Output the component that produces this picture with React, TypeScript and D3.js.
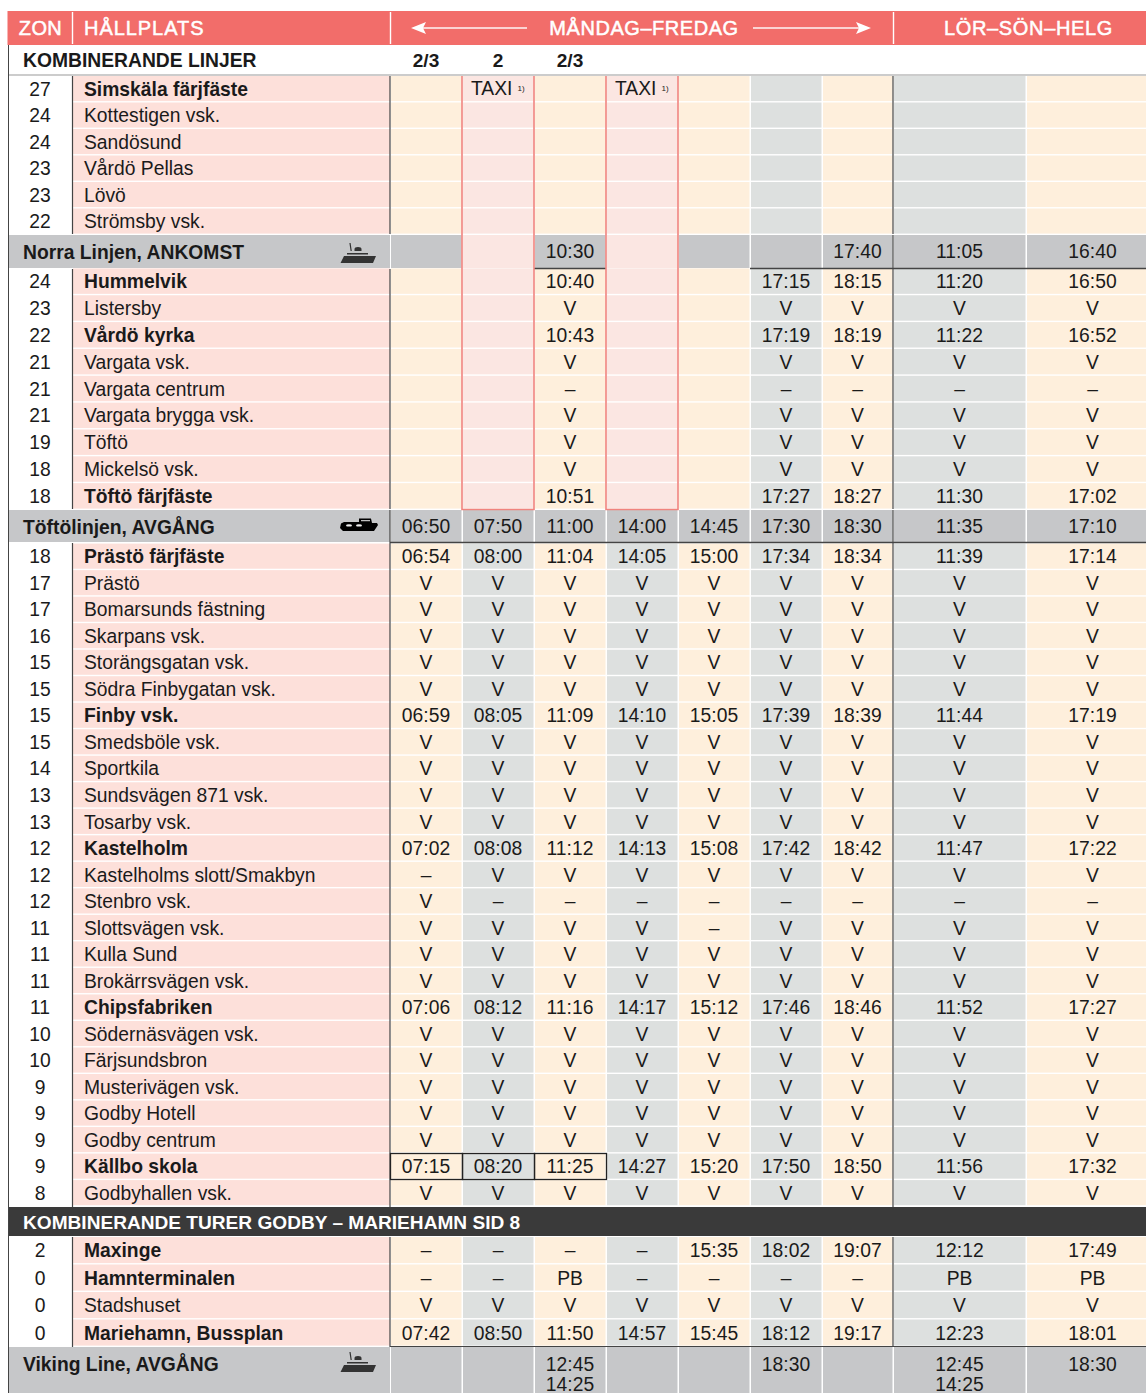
import React from 'react';
import * as d3 from 'd3';

const V = 'V';
const D = '–';
const E = '';

const lineNumbers = ['2/3', '2', '2/3'];

const zonesTop = ['27', '24', '24', '23', '23', '22'];
const stopsTop = ['Simskäla färjfäste', 'Kottestigen vsk.', 'Sandösund', 'Vårdö Pellas', 'Lövö', 'Strömsby vsk.'];

const zonesNorra = ['24', '23', '22', '21', '21', '21', '19', '18', '18'];
const stopsNorra = ['Hummelvik', 'Listersby', 'Vårdö kyrka', 'Vargata vsk.', 'Vargata centrum', 'Vargata brygga vsk.', 'Töftö', 'Mickelsö vsk.', 'Töftö färjfäste'];
const timesNorra = [
  [E, E, '10:40', E, E, '17:15', '18:15', '11:20', '16:50'],
  [E, E, V, E, E, V, V, V, V],
  [E, E, '10:43', E, E, '17:19', '18:19', '11:22', '16:52'],
  [E, E, V, E, E, V, V, V, V],
  [E, E, D, E, E, D, D, D, D],
  [E, E, V, E, E, V, V, V, V],
  [E, E, V, E, E, V, V, V, V],
  [E, E, V, E, E, V, V, V, V],
  [E, E, '10:51', E, E, '17:27', '18:27', '11:30', '17:02'],
];

const zonesMain = ['18', '17', '17', '16', '15', '15', '15', '15', '14', '13', '13', '12', '12', '12', '11', '11', '11', '11', '10', '10', '9', '9', '9', '9', '8'];
const stopsMain = ['Prästö färjfäste', 'Prästö', 'Bomarsunds fästning', 'Skarpans vsk.', 'Storängsgatan vsk.', 'Södra Finbygatan vsk.', 'Finby vsk.', 'Smedsböle vsk.', 'Sportkila', 'Sundsvägen 871 vsk.', 'Tosarby vsk.', 'Kastelholm', 'Kastelholms slott/Smakbyn', 'Stenbro vsk.', 'Slottsvägen vsk.', 'Kulla Sund', 'Brokärrsvägen vsk.', 'Chipsfabriken', 'Södernäsvägen vsk.', 'Färjsundsbron', 'Musterivägen vsk.', 'Godby Hotell', 'Godby centrum', 'Källbo skola', 'Godbyhallen vsk.'];
const allVia = [V, V, V, V, V, V, V, V, V];
const timesMain = [
  ['06:54', '08:00', '11:04', '14:05', '15:00', '17:34', '18:34', '11:39', '17:14'],
  allVia, allVia, allVia, allVia, allVia,
  ['06:59', '08:05', '11:09', '14:10', '15:05', '17:39', '18:39', '11:44', '17:19'],
  allVia, allVia, allVia, allVia,
  ['07:02', '08:08', '11:12', '14:13', '15:08', '17:42', '18:42', '11:47', '17:22'],
  [D, V, V, V, V, V, V, V, V],
  [V, D, D, D, D, D, D, D, D],
  [V, V, V, V, D, V, V, V, V],
  allVia, allVia,
  ['07:06', '08:12', '11:16', '14:17', '15:12', '17:46', '18:46', '11:52', '17:27'],
  allVia, allVia, allVia, allVia, allVia,
  ['07:15', '08:20', '11:25', '14:27', '15:20', '17:50', '18:50', '11:56', '17:32'],
  allVia,
];

const zonesCombined = ['2', '0', '0', '0'];
const stopsCombined = ['Maxinge', 'Hamnterminalen', 'Stadshuset', 'Mariehamn, Bussplan'];
const timesCombined = [
  [D, D, D, D, '15:35', '18:02', '19:07', '12:12', '17:49'],
  [D, D, 'PB', D, D, D, D, 'PB', 'PB'],
  allVia,
  ['07:42', '08:50', '11:50', '14:57', '15:45', '18:12', '19:17', '12:23', '18:01'],
];

const boldStops = new Set(['Simskäla färjfäste', 'Hummelvik', 'Vårdö kyrka', 'Töftö färjfäste', 'Prästö färjfäste', 'Finby vsk.', 'Kastelholm', 'Chipsfabriken', 'Källbo skola', 'Maxinge', 'Hamnterminalen', 'Mariehamn, Bussplan']);

const norraArrival = [E, E, '10:30', E, E, E, '17:40', '11:05', '16:40'];
const toftoDeparture = ['06:50', '07:50', '11:00', '14:00', '14:45', '17:30', '18:30', '11:35', '17:10'];
const vikingFirst = [E, E, '12:45', E, E, '18:30', E, '12:45', '18:30'];
const vikingSecond = [E, E, '14:25', E, E, E, E, '14:25', E];

const columns = d3.range(9);
// last column runs off the right of the page, its labels centre on the full width
const colEdges = [390, 462, 534, 606, 678, 750, 822, 893, 1026, 1159];
const colLeft = d3.scaleOrdinal<number, number>().domain(columns).range(colEdges);
const colRight = d3.scaleOrdinal<number, number>().domain(columns).range(colEdges.slice(1));
const colMid = (c: number) => (colLeft(c) + colRight(c)) / 2;

const C = {
  head: '#f26d6a',
  name: '#fde0da',
  cream: '#feefdc',
  gray: '#dde0df',
  band: '#c6c7c9',
  dark: '#3a3a3a',
  taxi: '#fbe6e2',
  taxiLine: '#f0837e',
  ink: '#1a1a1a',
  line: '#444',
};
const FONT = '"Liberation Sans", Arial, sans-serif';
const SIZE = 19.3;
const TAXI_COLS = [1, 3];
const isGrayCol = (c: number) => c === 1 || c === 3 || c === 5 || c === 7;

type Row = { zone: string; stop: string; y: number; h: number; cells: string[]; section: string };

function bandRows(zones: string[], stops: string[], times: string[][] | null, y0: number, y1: number, section: string): Row[] {
  const y = d3.scaleBand<number>().domain(d3.range(stops.length)).range([y0, y1]);
  return stops.map((s, i) => ({
    zone: zones[i],
    stop: s,
    y: y(i) as number,
    h: y.bandwidth(),
    cells: times ? times[i] : columns.map(() => E),
    section,
  }));
}

const rows: Row[] = [
  ...bandRows(zonesTop, stopsTop, null, 76, 235, 'top'),
  ...bandRows(zonesNorra, stopsNorra, timesNorra, 268.4, 510, 'norra'),
  ...bandRows(zonesMain, stopsMain, timesMain, 543.6, 1206.6, 'main'),
  ...bandRows(zonesCombined, stopsCombined, timesCombined, 1237, 1347, 'combined'),
];

function Txt({ x, y, children, bold, anchor, fill, size, spacing, heavy }: any) {
  return (
    <text
      x={x}
      y={y}
      dy="0.36em"
      textAnchor={anchor ?? 'middle'}
      fontFamily={FONT}
      fontWeight={bold ? 700 : 400}
      fontSize={size ?? SIZE}
      fill={fill ?? C.ink}
      letterSpacing={spacing}
      stroke={heavy ? fill : undefined}
      strokeWidth={heavy ? 0.5 : undefined}
    >
      {children}
    </text>
  );
}

function FerryBig({ x, y }: { x: number; y: number }) {
  // x/y = top-left of icon
  return (
    <path
      transform={`translate(${x},${y})`}
      fill="#333"
      d="M9.4 0 L10.6 0 L11.8 8 L10.6 8 Z M14.5 6 Q14.5 4 18 4 Q21.5 4 21.5 6 L21.5 8 L14.5 8 Z M7 10 L28 10 L28 11.4 L7 11.4 Z M4 13 L36 13 L33 20 L0.5 20 Z"
    />
  );
}

function FerrySmall({ x, y }: { x: number; y: number }) {
  return (
    <g transform={`translate(${x},${y})`}>
      <path fill="#000" d="M19 -0.5 L31 -0.5 L32 4 L37 4 L38 6 L34 12 L3 12 L0 9 L1 4.5 L4 3 L19 3 Z" />
      <ellipse cx="9" cy="6.4" rx="3" ry="1.2" fill="#eee" />
      <ellipse cx="19" cy="6.4" rx="3" ry="1.2" fill="#eee" />
      <rect x="21" y="1.2" width="9" height="1" fill="#eee" />
    </g>
  );
}

function Arrow({ from, to, y }: { from: number; to: number; y: number }) {
  const dir = to > from ? 1 : -1;
  return (
    <g fill="#fff">
      <rect x={Math.min(from, to - dir * 6)} y={y - 0.7} width={Math.abs(to - from) - 6} height={1.4} />
      <path d={`M${to} ${y} L${to - dir * 15} ${y - 6} L${to - dir * 12} ${y} L${to - dir * 15} ${y + 6} Z`} />
    </g>
  );
}

export default function App() {
  const bandCell = (c: number, y: number, h: number, fill: string) => (
    <rect key={`${c}-${y}`} x={colLeft(c) + 1} y={y} width={colRight(c) - colLeft(c) - 1.5} height={h} fill={fill} />
  );

  return (
    <svg width={1146} height={1393} style={{ position: 'absolute', left: 0, top: 0 }}>
      <rect width={1146} height={1393} fill="#fff" />

      {/* header */}
      <rect x={7.5} y={11} width={1139} height={34} fill={C.head} />
      {[72.5, 390.5, 893.5].map((x) => (
        <line key={x} x1={x} x2={x} y1={12} y2={44} stroke="#fff" strokeWidth={1.4} />
      ))}
      <Txt x={40.5} y={28} fill="#fff" size={20} spacing={0.4} heavy>ZON</Txt>
      <Txt x={84} y={28} anchor="start" fill="#fff" size={20} spacing={0.95} heavy>HÅLLPLATS</Txt>
      <Txt x={644} y={28} fill="#fff" size={20} spacing={0.55} heavy>MÅNDAG–FREDAG</Txt>
      <Txt x={1028.5} y={28} fill="#fff" size={20} spacing={0.65} heavy>LÖR–SÖN–HELG</Txt>
      <Arrow from={527} to={411} y={28} />
      <Arrow from={753} to={871} y={28} />

      {/* line numbers */}
      <Txt x={23} y={60.5} anchor="start" bold size={19.3}>KOMBINERANDE LINJER</Txt>
      {lineNumbers.map((l, i) => (
        <Txt key={i} x={colMid(i)} y={60.5} bold size={19.1}>{l}</Txt>
      ))}
      <line x1={8} x2={1146} y1={75} y2={75} stroke="#9a9a9a" strokeWidth={1.2} />

      {/* stop rows */}
      {rows.map((r) => (
        <g key={r.stop + r.y}>
          <rect x={73} y={r.y} width={317} height={r.h - 1.4} fill={C.name} />
          {columns.map((c) =>
            bandCell(
              c,
              r.y,
              r.h - 1.4,
              (r.section === 'top' || r.section === 'norra') && TAXI_COLS.includes(c)
                ? C.taxi
                : isGrayCol(c)
                  ? C.gray
                  : C.cream,
            ),
          )}
          <Txt x={40} y={r.y + r.h / 2 - 0.5}>{r.zone}</Txt>
          <Txt x={84} y={r.y + r.h / 2 - 0.5} anchor="start" bold={boldStops.has(r.stop)}>{r.stop}</Txt>
          {r.cells.map((v, c) => (
            <Txt key={c} x={colMid(c)} y={r.y + r.h / 2 - 0.5}>{v}</Txt>
          ))}
        </g>
      ))}

      {/* taxi labels */}
      {TAXI_COLS.map((c) => (
        <g key={c}>
          <Txt x={colLeft(c) + 9} y={88} anchor="start">TAXI</Txt>
          <Txt x={colLeft(c) + 59} y={88} size={8}>1)</Txt>
        </g>
      ))}

      {/* Norra band */}
      <rect x={9} y={235} width={381} height={33} fill={C.band} />
      {columns.map((c) => bandCell(c, 235, 33, TAXI_COLS.includes(c) ? C.taxi : C.band))}
      <Txt x={23} y={252.5} anchor="start" bold>Norra Linjen, ANKOMST</Txt>
      {norraArrival.map((v, c) => (
        <Txt key={c} x={colMid(c)} y={251.5}>{v}</Txt>
      ))}
      <FerryBig x={340} y={243} />

      {/* Töftö band */}
      <rect x={9} y={510} width={381} height={32} fill={C.band} />
      {columns.map((c) => bandCell(c, 510, 32, C.band))}
      <Txt x={23} y={527.5} anchor="start" bold>Töftölinjen, AVGÅNG</Txt>
      {toftoDeparture.map((v, c) => (
        <Txt key={c} x={colMid(c)} y={526}>{v}</Txt>
      ))}
      <FerrySmall x={340} y={519} />

      {/* dark band */}
      <rect x={8} y={1207} width={1138} height={29} fill={C.dark} />
      <Txt x={23} y={1222} anchor="start" bold fill="#fff" size={19.1}>KOMBINERANDE TURER GODBY – MARIEHAMN SID 8</Txt>

      {/* Viking band */}
      <rect x={9} y={1347} width={381} height={46} fill={C.band} />
      {columns.map((c) => bandCell(c, 1347, 46, C.band))}
      <Txt x={23} y={1364} anchor="start" bold>Viking Line, AVGÅNG</Txt>
      {vikingFirst.map((v, c) => (
        <Txt key={c} x={colMid(c)} y={1364.5}>{v}</Txt>
      ))}
      {vikingSecond.map((v, c) => (
        <Txt key={c} x={colMid(c)} y={1384.5}>{v}</Txt>
      ))}
      <FerryBig x={340} y={1352} />

      {/* rules */}
      <line x1={8.5} x2={8.5} y1={45} y2={1393} stroke={C.line} strokeWidth={1} />
      {[[76, 234], [269, 509], [543, 1207], [1237, 1347]].map(([a, b]) => (
        <g key={a}>
          <line x1={72.5} x2={72.5} y1={a} y2={b} stroke={C.line} strokeWidth={1.2} />
          <line x1={390} x2={390} y1={a} y2={b} stroke={C.line} strokeWidth={1.2} />
          <line x1={893} x2={893} y1={a} y2={b} stroke={C.line} strokeWidth={1.2} />
        </g>
      ))}
      <line x1={390} x2={390} y1={510} y2={543} stroke={C.line} strokeWidth={1.2} />
      <line x1={893} x2={893} y1={235} y2={269} stroke={C.line} strokeWidth={1.2} />
      <line x1={893} x2={893} y1={510} y2={543} stroke={C.line} strokeWidth={1.2} />
      <line x1={534} x2={606} y1={268.5} y2={268.5} stroke={C.line} strokeWidth={1.4} />
      <line x1={750} x2={1146} y1={268.5} y2={268.5} stroke={C.line} strokeWidth={1.4} />
      <line x1={390} x2={1146} y1={542.5} y2={542.5} stroke={C.line} strokeWidth={1.4} />
      <line x1={390} x2={1146} y1={1346.5} y2={1346.5} stroke={C.line} strokeWidth={1} />

      {/* taxi outlines */}
      {TAXI_COLS.map((c) => (
        <path
          key={c}
          d={`M${colLeft(c)} 76 V509.5 H${colRight(c)} V76`}
          fill="none"
          stroke={C.taxiLine}
          strokeWidth={1.6}
        />
      ))}

      {/* Källbo skola boxes */}
      {[0, 1, 2].map((c) => (
        <rect key={c} x={colLeft(c) + 0.5} y={1153.5} width={colRight(c) - colLeft(c)} height={26} fill="none" stroke="#222" strokeWidth={1.3} />
      ))}
    </svg>
  );
}
